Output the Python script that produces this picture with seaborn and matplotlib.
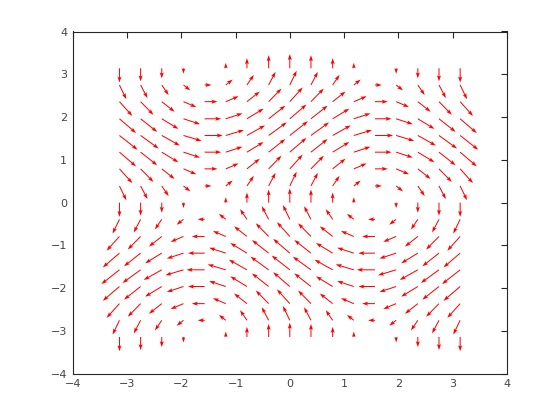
import matplotlib
matplotlib.use("Agg")
import matplotlib.pyplot as plt
import seaborn as sns
import numpy as np

# grid positions (17 columns / 17 rows, -pi .. pi)
x_vals = [-3.14, -2.75, -2.36, -1.96, -1.57, -1.18, -0.79, -0.39, 0.0,
          0.39, 0.79, 1.18, 1.57, 1.96, 2.36, 2.75, 3.14]
y_vals = [-3.14, -2.75, -2.36, -1.96, -1.57, -1.18, -0.79, -0.39, 0.0,
          0.39, 0.79, 1.18, 1.57, 1.96, 2.36, 2.75, 3.14]

# horizontal component, one value per row (same along a row)
u_row = [0.0, -0.38, -0.71, -0.92, -1.0, -0.92, -0.71, -0.38, 0.0,
         0.38, 0.71, 0.92, 1.0, 0.92, 0.71, 0.38, 0.0]
# vertical component, one value per column (same down a column)
v_col = [-1.0, -0.92, -0.71, -0.38, 0.0, 0.38, 0.71, 0.92, 1.0,
         0.92, 0.71, 0.38, 0.0, -0.38, -0.71, -0.92, -1.0]

tick_vals = [-4, -3, -2, -1, 0, 1, 2, 3, 4]

sns.set_theme(style="white")
plt.rcParams['font.family'] = ['DejaVu Sans']

# build the grid table
X, Y = np.meshgrid(x_vals, y_vals)
U = np.tile(np.array(u_row)[:, None], (1, len(x_vals)))
V = np.tile(np.array(v_col)[None, :], (len(y_vals), 1))

fig = plt.figure(figsize=(5.6, 4.2), dpi=100)
ax = fig.add_axes([0.13, 0.11, 0.775, 0.815])

# octave-like autoscale: 0.9 * grid diagonal / max length
ax.quiver(X, Y, U, V, color="#ff0000", angles="xy", scale_units="xy",
          scale=3.0, pivot="tail", units="dots", width=1.0,
          headwidth=4, headlength=6, headaxislength=5, minlength=0)

ax.set_xlim(-4, 4)
ax.set_ylim(-4, 4)
ax.set_xticks(tick_vals)
ax.set_yticks(tick_vals)
ax.tick_params(direction="in", length=4, width=0.8, top=True, right=True,
               labelsize=8, colors="#262626", labelcolor="#444444", pad=4)
for sp in ax.spines.values():
    sp.set_color("#262626")
    sp.set_linewidth(0.8)
ax.grid(False)

fig.savefig("out.png", dpi=100, facecolor="white")
